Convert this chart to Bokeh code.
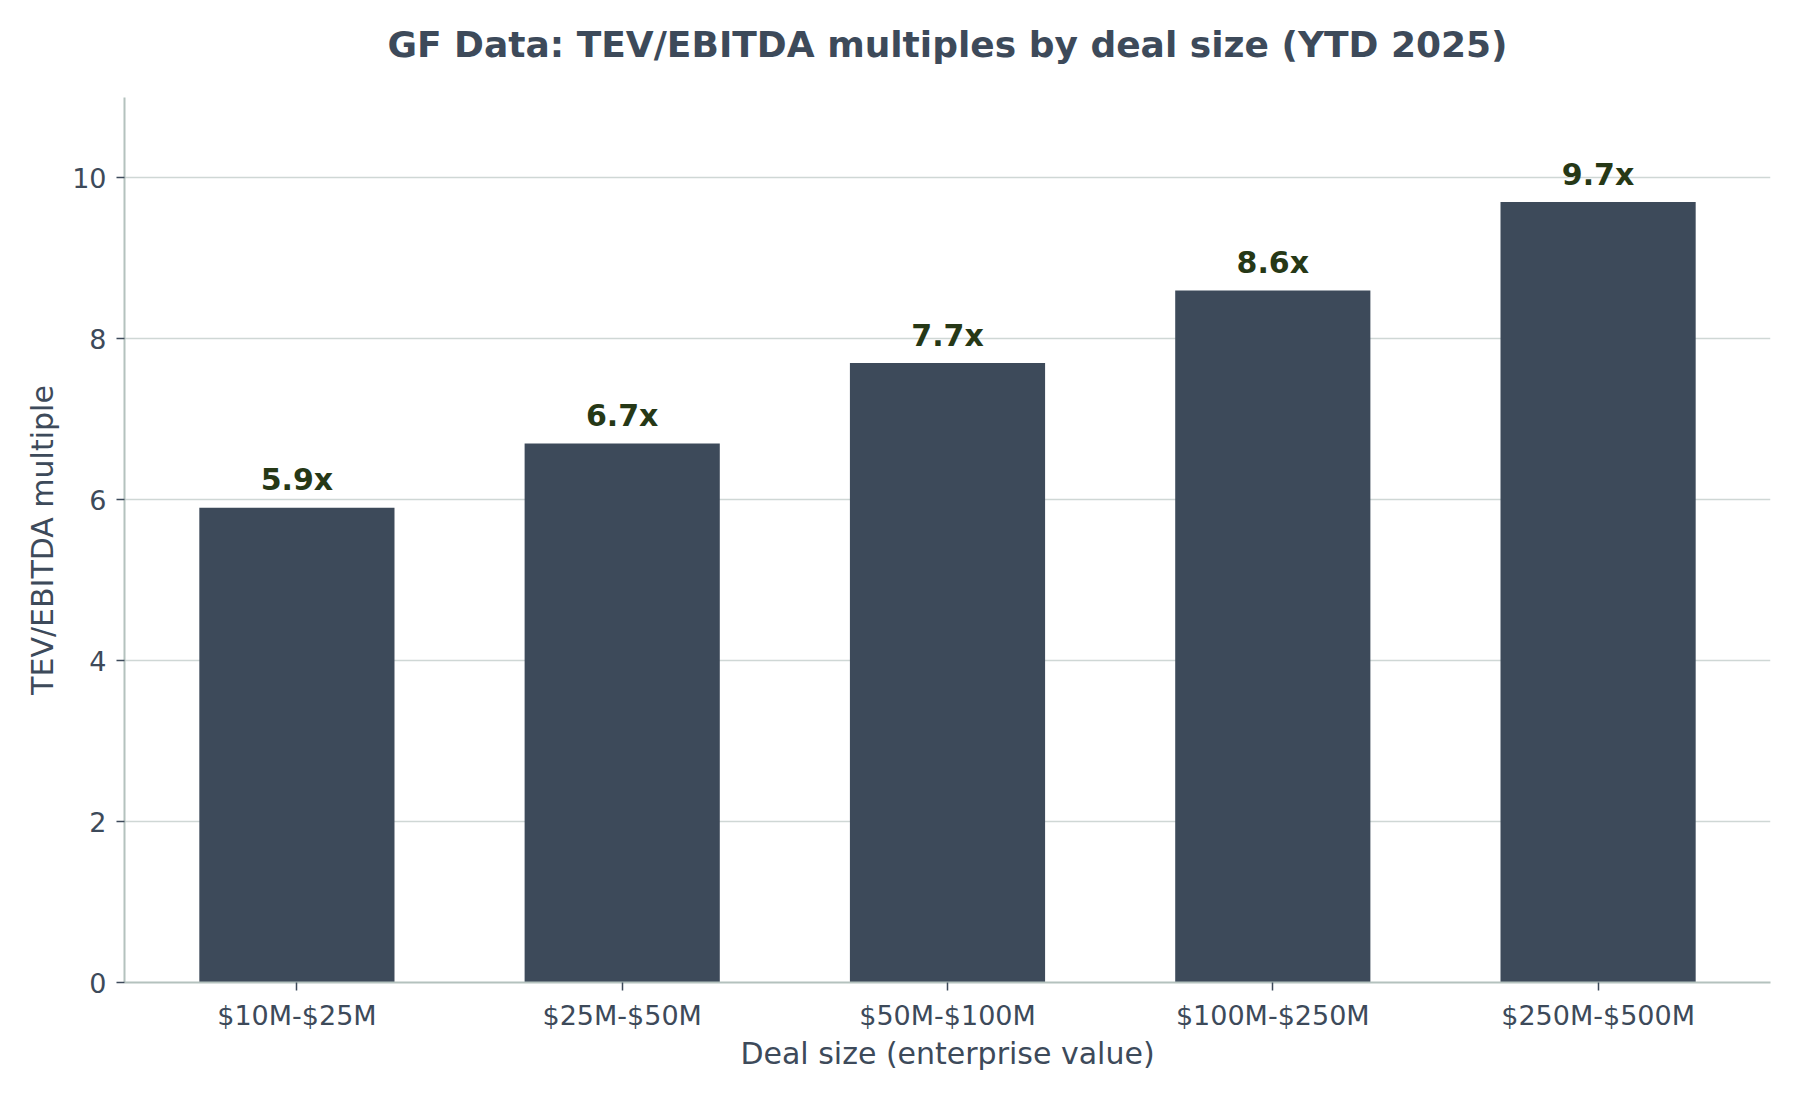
from bokeh.plotting import figure
from bokeh.models import FixedTicker, Range1d, ColumnDataSource, Title
from bokeh.embed import file_html
from bokeh.resources import INLINE

title_text = "GF Data: TEV/EBITDA multiples by deal size (YTD 2025)"
categories = ["$10M-$25M", "$25M-$50M", "$50M-$100M", "$100M-$250M", "$250M-$500M"]
multiples = [5.9, 6.7, 7.7, 8.6, 9.7]
value_labels = ["5.9x", "6.7x", "7.7x", "8.6x", "9.7x"]
y_ticks = [0, 2, 4, 6, 8, 10]

TEXT = "#3d4a5a"
BAR = "#3d4a5a"
LABEL = "#263816"
SPINE = "#b4c2be"
GRID = "#cfd7d5"
FONT = "DejaVu Sans"

xs = list(range(len(categories)))
src = ColumnDataSource(dict(x=xs, top=multiples, label=value_labels))

p = figure(width=1784, height=1084, output_backend="svg", toolbar_location=None, title=None,
           x_range=Range1d(-0.53, len(categories) - 1 + 0.53), y_range=Range1d(0, 11),
           min_border_left=124, min_border_right=14, min_border_top=97, min_border_bottom=102)

# invisible spacer between the frame and the title
spacer = Title(text=" ", text_font_size="1px", standoff=30, text_color="white")
p.add_layout(spacer, "above")
main_title = Title(text=title_text, text_font=FONT, text_font_size="36px",
                   text_font_style="bold", text_color=TEXT, align="center", standoff=0)
p.add_layout(main_title, "above")

p.vbar(x="x", top="top", width=0.6, bottom=0, source=src, color=BAR, line_color=None)
p.text(x="x", y="top", text="label", source=src, y_offset=-28,
       text_align="center", text_baseline="alphabetic",
       text_font_size="30px", text_font_style="bold", text_color=LABEL,
       text_font={"value": FONT})

p.outline_line_color = None
p.background_fill_color = "white"
p.border_fill_color = "white"

p.xgrid.grid_line_color = None
p.ygrid.grid_line_color = GRID
p.ygrid.grid_line_width = 1.5
p.ygrid.ticker = FixedTicker(ticks=y_ticks)

p.xaxis.ticker = FixedTicker(ticks=xs)
p.xaxis.major_label_overrides = {i: c for i, c in zip(xs, categories)}
p.yaxis.ticker = FixedTicker(ticks=y_ticks)

for ax in (p.xaxis[0], p.yaxis[0]):
    ax.axis_line_color = SPINE
    ax.axis_line_width = 2
    ax.major_tick_line_color = TEXT
    ax.major_tick_line_width = 1.5
    ax.major_tick_out = 8
    ax.major_tick_in = 0
    ax.minor_tick_line_color = None
    ax.major_label_text_font = FONT
    ax.major_label_text_font_size = "27px"
    ax.major_label_text_color = TEXT
    ax.axis_label_text_font = FONT
    ax.axis_label_text_font_size = "30px"
    ax.axis_label_text_font_style = "normal"
    ax.axis_label_text_color = TEXT

p.xaxis.axis_label = "Deal size (enterprise value)"
p.yaxis.axis_label = "TEV/EBITDA multiple"
p.xaxis.major_label_standoff = 9
p.yaxis.major_label_standoff = 10
p.xaxis.axis_label_standoff = 2
p.yaxis.axis_label_standoff = 9

open("out.html", "w").write(file_html(p, INLINE))
